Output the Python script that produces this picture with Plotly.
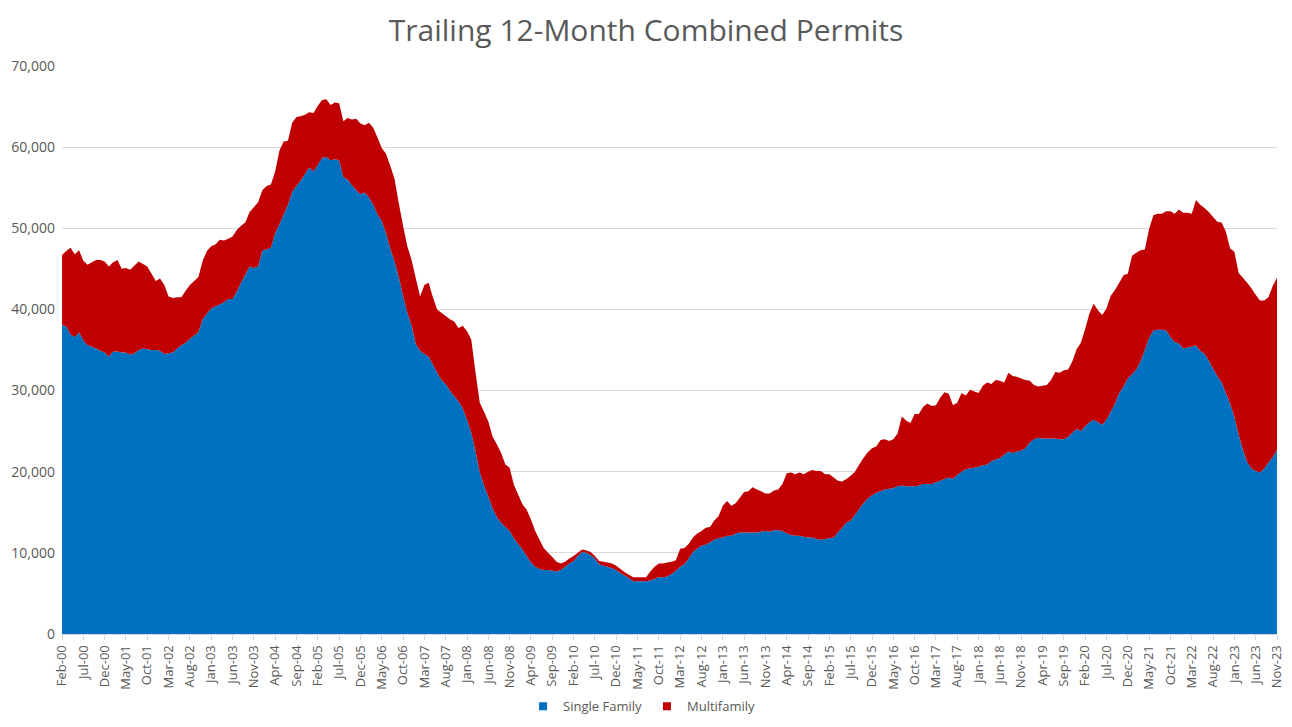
import pandas as pd
import plotly.graph_objects as go

# monthly, Feb-2000 .. Nov-2023 (trailing 12-month permits)
months = pd.date_range("2000-02-01", "2023-11-01", freq="MS").strftime("%b-%y").tolist()

single_family = [
    # 2000 (Feb-Dec)
    38100, 37900, 36900, 36600, 37200, 36200, 35600, 35400, 35200, 34900, 34700,
    # 2001
    34200, 34800, 34800, 34700, 34700, 34400, 34600, 35000, 35200, 35100, 35000, 35000,
    # 2002
    34900, 34500, 34600, 34700, 35200, 35600, 35900, 36400, 36800, 37200, 38800, 39500,
    # 2003
    40100, 40400, 40600, 40900, 41300, 41300, 42200, 43300, 44300, 45300, 45100, 45300,
    # 2004
    47300, 47400, 47600, 49400, 50500, 51700, 52900, 54500, 55200, 55900, 56700, 57500,
    # 2005
    57000, 57800, 58700, 58800, 58400, 58500, 58400, 56300, 56000, 55300, 54700, 54200,
    # 2006
    54400, 53800, 52900, 51700, 50900, 49400, 47500, 45900, 44000, 41700, 39600, 38000,
    # 2007
    35700, 34900, 34500, 34200, 33200, 32200, 31300, 30800, 30000, 29300, 28700, 27800,
    # 2008
    26400, 24800, 22500, 19900, 18300, 16900, 15500, 14400, 13700, 13200, 12700, 11800,
    # 2009
    11100, 10400, 9600, 8800, 8300, 8000, 7900, 7900, 7800, 7700, 7900, 8300,
    # 2010
    8700, 9000, 9600, 10100, 10000, 9700, 9300, 8600, 8400, 8300, 8100, 7900,
    # 2011
    7500, 7200, 6900, 6500, 6500, 6500, 6500, 6600, 6800, 7000, 7000, 7100,
    # 2012
    7400, 7800, 8300, 8600, 9300, 10100, 10500, 10900, 11000, 11300, 11600, 11800,
    # 2013
    11900, 12100, 12100, 12400, 12500, 12500, 12500, 12500, 12500, 12600, 12700, 12600,
    # 2014
    12800, 12800, 12700, 12400, 12200, 12100, 12100, 12000, 11900, 11900, 11700, 11600,
    # 2015
    11700, 11800, 11900, 12500, 13100, 13700, 14000, 14700, 15400, 16100, 16700, 17100,
    # 2016
    17400, 17600, 17800, 17900, 18000, 18200, 18300, 18200, 18200, 18200, 18300, 18500,
    # 2017
    18500, 18500, 18700, 18900, 19100, 19300, 19100, 19600, 20000, 20300, 20400, 20500,
    # 2018
    20600, 20800, 20900, 21300, 21500, 21700, 22100, 22500, 22300, 22500, 22600, 22900,
    # 2019
    23600, 24000, 24200, 24100, 24100, 24100, 24100, 24000, 24000, 24300, 24800, 25300,
    # 2020
    25000, 25600, 26100, 26400, 26100, 25800, 26400, 27400, 28400, 29700, 30500, 31500,
    # 2021
    32000, 32600, 33600, 35000, 36500, 37400, 37500, 37500, 37400, 36600, 36000, 35800,
    # 2022
    35200, 35300, 35400, 35600, 34900, 34500, 33700, 32700, 31800, 31000, 29700, 28400,
    # 2023 (Jan-Nov)
    26700, 24600, 22700, 21200, 20400, 20100, 19900, 20400, 21100, 21800, 22700,
]

multifamily = [
    # 2000 (Feb-Dec)
    8600, 9300, 10700, 10200, 10100, 9800, 9900, 10400, 10900, 11200, 11200,
    # 2001
    11100, 11000, 11300, 10300, 10400, 10500, 10800, 10900, 10400, 10200, 9400, 8500,
    # 2002
    8900, 8500, 7000, 6700, 6300, 5900, 6400, 6600, 6700, 6800, 7200, 7700,
    # 2003
    7700, 7600, 8000, 7600, 7400, 7700, 7600, 7000, 6400, 6700, 7500, 7900,
    # 2004
    7400, 7800, 7800, 7600, 9100, 9000, 7900, 8500, 8500, 7900, 7300, 6800,
    # 2005
    7200, 7300, 7100, 7100, 6800, 7000, 7000, 6900, 7600, 8100, 8800, 8700,
    # 2006
    8300, 9200, 9500, 9500, 9000, 9800, 10200, 10200, 9100, 8600, 8200, 8100,
    # 2007
    8100, 6700, 8500, 9100, 8300, 7800, 8300, 8400, 8800, 9200, 9000, 10200,
    # 2008
    10900, 11500, 9700, 8600, 9100, 9300, 8800, 9000, 8600, 7700, 7800, 6600,
    # 2009
    6100, 5600, 5700, 5300, 4400, 3600, 2700, 2100, 1700, 1200, 800, 600,
    # 2010
    600, 600, 400, 300, 300, 400, 300, 400, 500, 500, 600, 500,
    # 2011
    500, 400, 400, 500, 500, 500, 500, 1100, 1500, 1700, 1700, 1700,
    # 2012
    1500, 1300, 2200, 2000, 1800, 1800, 1900, 1800, 2100, 1900, 2400, 2700,
    # 2013
    3900, 4300, 3700, 3700, 4300, 5000, 5100, 5600, 5300, 5000, 4600, 4700,
    # 2014
    4900, 5000, 5800, 7400, 7700, 7600, 7800, 7700, 8100, 8300, 8400, 8500,
    # 2015
    8000, 7900, 7400, 6400, 5700, 5400, 5500, 5300, 5500, 5600, 5700, 5800,
    # 2016
    5700, 6300, 6200, 5900, 6000, 6500, 8500, 8100, 7800, 8900, 8800, 9500,
    # 2017
    9900, 9600, 9500, 10200, 10700, 10300, 9100, 8900, 9700, 9100, 9700, 9400,
    # 2018
    9100, 9800, 10100, 9500, 9800, 9500, 8900, 9700, 9500, 9200, 8900, 8400,
    # 2019
    7600, 6700, 6300, 6500, 6600, 7200, 8200, 8200, 8500, 8300, 8800, 9800,
    # 2020
    10900, 12000, 13400, 14300, 13800, 13500, 13700, 14300, 14000, 13600, 13700, 12900,
    # 2021
    14600, 14400, 13700, 12400, 13400, 14200, 14300, 14300, 14700, 15500, 15800, 16500,
    # 2022
    16700, 16600, 16400, 17900, 18000, 18000, 18300, 18700, 19000, 19700, 19900, 19100,
    # 2023 (Jan-Nov)
    20400, 19900, 21200, 22100, 22200, 21700, 21200, 20700, 20400, 21100, 21200,
]

tick_labels = months[::5]

font_name = "Open Sans"
text_grey = "#595959"
grid_grey = "#d9d9d9"
blue = "#0070C0"
red = "#C00000"

fig = go.Figure()
fig.add_trace(go.Scatter(x=months, y=single_family, name="Single Family",
                         stackgroup="one", mode="none", fillcolor=blue, showlegend=False))
fig.add_trace(go.Scatter(x=months, y=multifamily, name="Multifamily",
                         stackgroup="one", mode="none", fillcolor=red, showlegend=False))
# legend entries with square swatches like the Excel legend
for nm, col in [("Single Family", blue), ("Multifamily", red)]:
    fig.add_trace(go.Scatter(x=[None], y=[None], name=nm, mode="markers",
                             marker=dict(symbol="square", size=8, color=col)))

# page body has an 8px margin on every side, so keep the figure inside the window
fig.update_layout(
    width=1276, height=711,
    paper_bgcolor="white", plot_bgcolor="white",
    margin=dict(l=54, r=7, t=58, b=85),
    font=dict(family=font_name, size=13, color=text_grey),
    title=dict(text="Trailing 12-Month Combined Permits", x=0.5, xanchor="center",
               y=0.969, yanchor="middle", font=dict(size=30, color=text_grey)),
    legend=dict(orientation="h", x=0.477, xanchor="center",
                yref="container", y=0.018, yanchor="middle",
                font=dict(size=13, color=text_grey), traceorder="normal",
                itemwidth=30),
    hovermode="x unified",
)
fig.update_xaxes(type="category", range=[0, len(months) - 1], automargin=False,
                 tickmode="array", tickvals=tick_labels, ticktext=tick_labels,
                 tickangle=-90, ticks="outside", ticklen=5, tickcolor=grid_grey,
                 showline=True, linecolor=grid_grey, showgrid=False,
                 tickfont=dict(size=13, color=text_grey))
fig.update_yaxes(range=[0, 70000], dtick=10000, tickformat=",", automargin=False,
                 showgrid=True, gridcolor=grid_grey, zeroline=False,
                 ticks="", ticklabelstandoff=6, tickfont=dict(size=14, color=text_grey))

fig.write_html("out.html")
